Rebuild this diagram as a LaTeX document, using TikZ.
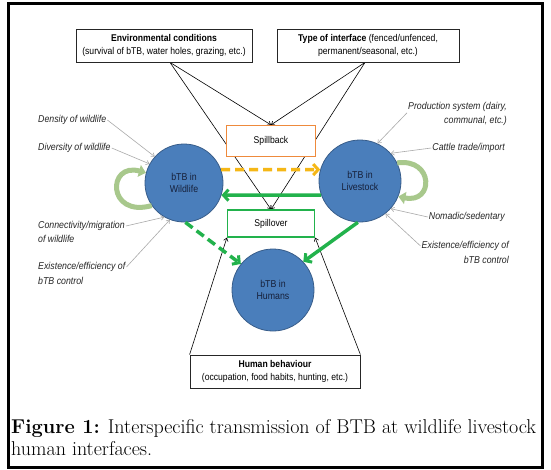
\documentclass[tikz,border=0pt]{standalone}
\usepackage{fontspec}
\newfontfamily\lab[FakeStretch=0.88]{Liberation Sans}
\usetikzlibrary{arrows.meta}
\definecolor{circfill}{HTML}{4A7EBB}
\definecolor{circdraw}{HTML}{385D8A}
\definecolor{circtext}{HTML}{16203A}
\definecolor{orangeC}{HTML}{EE8A3C}
\definecolor{greenC}{HTML}{22B24C}
\definecolor{yellowC}{HTML}{F5B716}
\definecolor{loopC}{HTML}{A8C88C}
\definecolor{grayC}{HTML}{AAAAAA}
\pgfdeclarelayer{bg}
\pgfsetlayers{bg,main}
\begin{document}
\begin{tikzpicture}[x=1pt,y=-1pt,
  box/.style={draw=black!85, line width=0.8pt, fill=white, align=center, inner sep=1pt,
    font=\lab\fontsize{9.8}{13.5}\selectfont},
  circ/.style={circle, draw=circdraw, line width=0.8pt, fill=circfill, align=center,
    text=circtext, inner sep=0pt, font=\lab\fontsize{10}{12.5}\selectfont},
  lbl/.style={inner sep=1pt, text=black!85, font=\lab\itshape\fontsize{10}{12}\selectfont},
  blk/.style={line width=0.6pt, -{Straight Barb[length=3pt,width=4.5pt]}},
  gry/.style={draw=grayC, line width=0.6pt, -{Straight Barb[length=3pt,width=4.5pt]}},
  thickarr/.style={line width=3.5pt, -{Straight Barb[length=5pt,width=11pt,line width=3pt]}},
  looparr/.style={draw=loopC, line width=5pt, -{Triangle[length=7pt,width=12pt]}},
  captext/.style={anchor=west, inner sep=0pt, font=\fontsize{20}{24}\selectfont}
]
\useasboundingbox (0,0) rectangle (551,469);
\begin{pgfonlayer}{bg}
\fill[white] (0,0) rectangle (551,469);
\end{pgfonlayer}
\draw[line width=3pt] (8,3.5) rectangle (542,467);

% boxes
\node[box, minimum width=176pt, minimum height=33pt] (env) at (164,45.5)
  {\textbf{Environmental conditions}\\(survival of bTB, water holes, grazing, etc.)};
\node[box, minimum width=182pt, minimum height=33pt] (type) at (368,45.5)
  {\textbf{Type of interface} (fenced/unfenced,\\permanent/seasonal, etc.)};
\node[box, draw=orangeC, line width=1.2pt, minimum width=89pt, minimum height=31pt] (sb) at (271,141) {Spillback};
\node[box, draw=greenC, line width=1.2pt, minimum width=87pt, minimum height=27pt] (so) at (271,223.5) {Spillover};
\node[box, minimum width=170pt, minimum height=33pt, font=\lab\fontsize{9.8}{12.5}\selectfont] (hb) at (275,371.5)
  {\textbf{Human behaviour}\\(occupation, food habits, hunting, etc.)};

% circles
\node[circ, minimum size=78pt] (wild) at (184,183) {bTB in\\Wildlife};
\node[circ, minimum size=82pt] (live) at (360,181) {bTB in\\Livestock};
\node[circ, minimum size=82pt] (hum) at (273,290) {bTB in\\Humans};

\coordinate (eo) at ([xshift=6pt]env.south);
\coordinate (to) at ([xshift=-3pt]type.south);

\begin{pgfonlayer}{bg}
\draw[blk] (eo) -- (sb.north);
\draw[blk] (eo) -- (so.north);
\draw[blk] (to) -- (sb.north);
\draw[blk] (to) -- (so.north);
\end{pgfonlayer}
\draw[blk] (hb.north west) -- (so.south west);
\draw[blk] (hb.north east) -- (so.south east);

% transmission arrows
\draw[thickarr, draw=yellowC, dash pattern=on 9pt off 5pt] (wild.20) -- (live.164);
\draw[thickarr, draw=greenC] (live.200) -- (wild.-18);
\draw[thickarr, draw=greenC, dash pattern=on 9pt off 5pt] (wild.-88) -- (hum.141);
\draw[thickarr, draw=greenC] (live.-93) -- (hum.43);

% self loops
\draw[looparr] (wild.215) .. controls (107,218) and (107,162) .. (wild.165);
\draw[looparr] (live.26) .. controls (434,158) and (434,204) .. (live.-22);

% labels left
\node[lbl, anchor=west] (dens) at (37,120) {Density of wildlife};
\node[lbl, anchor=west] (div) at (37,148) {Diversity of wildlife};
\node[lbl, anchor=west] (con1) at (37,226) {Connectivity/migration};
\node[lbl, anchor=west] (con2) at (37,239) {of wildlife};
\node[lbl, anchor=west] (exl1) at (37,267) {Existence/efficiency of};
\node[lbl, anchor=west] (exl2) at (37,281) {bTB control};
% labels right
\node[lbl, anchor=east] (pr1) at (508,107) {Production system (dairy,};
\node[lbl, anchor=east] (pr2) at (508,121) {communal, etc.)};
\node[lbl, anchor=east] (cat) at (506,148) {Cattle trade/import};
\node[lbl, anchor=east] (nom) at (506,217) {Nomadic/sedentary};
\node[lbl, anchor=east] (exr1) at (510,246) {Existence/efficiency of};
\node[lbl, anchor=east] (exr2) at (510,260) {bTB control};

\draw[gry] (dens.east) -- (wild.138);
\draw[gry] (div.east) -- (wild.151);
\draw[gry] (con1.east) -- (wild.240);
\draw[gry] (exl1.east) -- (wild.249);
\draw[gry] (pr1.south west) -- (live.65);
\draw[gry] (cat.west) -- (live.42);
\draw[gry] (nom.west) -- (live.-42);
\draw[gry] (exr1.west) -- (live.-52);

% caption
\node[captext] (cap1) at (11,428) {\textbf{Figure 1:} Interspecific transmission of BTB at wildlife livestock};
\node[captext] (cap2) at (11,449) {human interfaces.};
\end{tikzpicture}
\end{document}
